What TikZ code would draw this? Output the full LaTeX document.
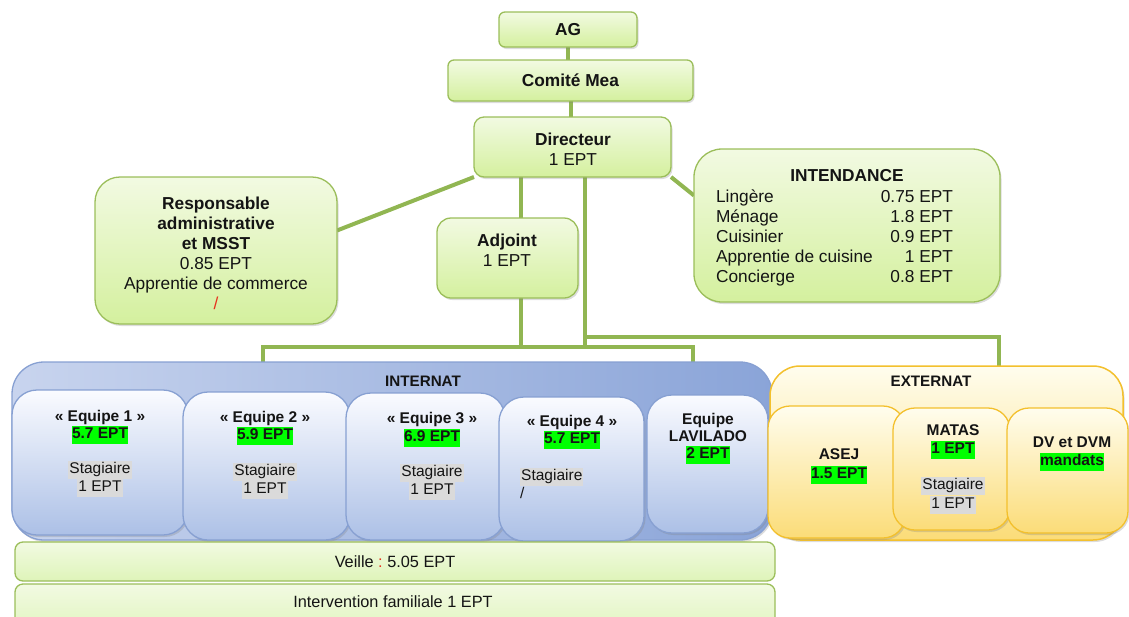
\documentclass[tikz,border=0pt]{standalone}
\usepackage{fontspec}
\setmainfont{Liberation Sans}
\usetikzlibrary{shadows,backgrounds}

\definecolor{tcol}{RGB}{20,20,20}
\definecolor{gline}{RGB}{145,182,82}
\definecolor{gedge}{RGB}{155,190,90}
\definecolor{gtop}{RGB}{242,250,226}
\definecolor{gbot}{RGB}{212,240,158}
\definecolor{vbot}{RGB}{222,244,185}
\definecolor{bedge}{RGB}{135,160,210}
\definecolor{btop}{RGB}{250,251,255}
\definecolor{bbot}{RGB}{172,192,230}
\definecolor{bleft}{RGB}{200,212,238}
\definecolor{bright}{RGB}{138,164,216}
\definecolor{yedge}{RGB}{243,192,45}
\definecolor{ytop}{RGB}{255,253,238}
\definecolor{ybot}{RGB}{251,220,120}
\definecolor{hlgreen}{RGB}{0,255,0}
\definecolor{hlgray}{RGB}{218,218,218}
\definecolor{slashred}{RGB}{230,50,30}

\newcommand{\bigf}{\fontsize{17.3}{20}\selectfont}
\newcommand{\smallf}{\fontsize{15.5}{18}\selectfont}
\newcommand{\headf}{\fontsize{15.2}{18}\selectfont\bfseries}
\newcommand{\barf}{\fontsize{16.3}{19}\selectfont}
\newcommand{\hlg}[1]{{\setlength{\fboxsep}{0pt}\colorbox{hlgreen}{\strut\textbf{#1}}}}
\newcommand{\hlgr}[1]{{\setlength{\fboxsep}{0pt}\colorbox{hlgray}{\strut\kern1pt #1\kern1pt}}}

\tikzset{
  boxshadow/.style={drop shadow={opacity=0.28, shadow xshift=1.5pt, shadow yshift=-2pt}},
  gbox/.style={draw=gedge, line width=1.3pt, top color=gtop, bottom color=gbot,
    rounded corners=#1, inner sep=0pt, outer sep=0pt, text=tcol, font=\bigf, boxshadow},
  gbox/.default=8pt,
  vbar/.style={draw=gedge, line width=1.3pt, top color=gtop, bottom color=vbot,
    rounded corners=8pt, inner sep=0pt, outer sep=0pt, text=tcol, font=\barf},
  panel/.style={draw=bedge, line width=1.3pt, left color=bleft, right color=bright,
    rounded corners=32pt, inner sep=0pt, outer sep=0pt, boxshadow},
  bbox/.style={draw=bedge, line width=1.3pt, top color=btop, bottom color=bbot,
    rounded corners=25pt, inner sep=0pt, outer sep=0pt, boxshadow},
  ypanel/.style={draw=yedge, line width=1.5pt, top color=ytop, bottom color=ybot,
    rounded corners=30pt, inner sep=0pt, outer sep=0pt, boxshadow},
  ybox/.style={draw=yedge, line width=1.3pt, top color=ytop, bottom color=ybot,
    rounded corners=22pt, inner sep=0pt, outer sep=0pt, boxshadow},
  lbl/.style={inner sep=0pt, text=tcol, font=\smallf},
  clbl/.style={lbl, align=center},
  link/.style={draw=gline, line width=4pt}
}

\begin{document}
\begin{tikzpicture}[x=1pt, y=-1pt]
\useasboundingbox (0,0) rectangle (1129,616);

\node[gbox=6pt, minimum width=138, minimum height=35] (ag) at (568,29.5) {\textbf{AG}};
\node[gbox=6pt, minimum width=245, minimum height=41] (comite) at (570.5,80.5) {\textbf{Comité Mea}};
\node[gbox=10pt, minimum width=197, minimum height=60] (dir) at (572.5,147) {};
\node[clbl, font=\bigf] (dir-t) at (573,149) {\textbf{Directeur}\\1 EPT};
\node[gbox=25pt, minimum width=242, minimum height=147] (resp) at (216,250.5) {};
\node[clbl, font=\bigf] (resp-t) at (216,253.5) {\textbf{Responsable}\\\textbf{administrative}\\\textbf{et MSST}\\0.85 EPT\\Apprentie de commerce\\\textcolor{slashred}{/}};
\node[gbox=14pt, minimum width=141, minimum height=80] (adj) at (507.5,258) {};
\node[clbl, font=\bigf] (adj-t) at (507,250) {\textbf{Adjoint}\\1 EPT};
\node[gbox=28pt, minimum width=306, minimum height=153] (intend) at (847,225.5) {};
\node[lbl, font=\bigf\bfseries] (intend-h) at (847,176) {INTENDANCE};
\node[lbl, font=\bigf] (intend-t) at (834.5,238) {\begin{tabular}{@{}l@{\hspace{8pt}}r@{}}
  Lingère & 0.75 EPT\\
  Ménage & 1.8 EPT\\
  Cuisinier & 0.9 EPT\\
  Apprentie de cuisine & 1 EPT\\
  Concierge & 0.8 EPT
\end{tabular}};

\node[panel, minimum width=760, minimum height=178] (internat) at (392,451) {};
\node[lbl, font=\headf] (internat-h) at (423,381) {INTERNAT};
\node[bbox, minimum width=176, minimum height=145] (e1) at (100,462.5) {};
\node[bbox, minimum width=167, minimum height=148] (e2) at (266.5,466) {};
\node[bbox, minimum width=159, minimum height=147] (e3) at (425.5,466.5) {};
\node[bbox, minimum width=145, minimum height=144] (e4) at (571.5,469) {};
\node[bbox, minimum width=121, minimum height=138] (lav) at (707.5,464) {};
\node[clbl] (e1-t) at (100,453.5) {\textbf{« Equipe 1 »}\\[-1pt]\hlg{5.7 EPT}\\[17pt]\hlgr{Stagiaire}\\\hlgr{1 EPT}};
\node[clbl] (e2-t) at (265,455.5) {\textbf{« Equipe 2 »}\\[-1pt]\hlg{5.9 EPT}\\[18pt]\hlgr{Stagiaire}\\\hlgr{1 EPT}};
\node[clbl] (e3-t) at (432,456.5) {\textbf{« Equipe 3 »}\\[0pt]\hlg{6.9 EPT}\\[17pt]\hlgr{Stagiaire}\\\hlgr{1 EPT}};
\node[clbl] (e4-t) at (572,432) {\textbf{« Equipe 4 »}\\[-1pt]\hlg{5.7 EPT}};
\node[lbl, align=left, anchor=west] (e4-s) at (520,483) {\hlgr{Stagiaire}\\/};
\node[clbl] (lav-t) at (708,438.5) {\textbf{Equipe}\\[-1pt]\textbf{LAVILADO}\\[-1pt]\hlg{2 EPT}};

\node[vbar, minimum width=760, minimum height=39] (veille) at (395,561.5) {Veille \textcolor{slashred}{:}\ 5.05 EPT};
\node[vbar, minimum width=760, minimum height=56] (interv) at (395,612) {};
\node[lbl, font=\barf] (interv-t) at (393,602) {Intervention familiale 1 EPT};

\node[ypanel, minimum width=353, minimum height=174] (externat) at (946.5,453) {};
\node[lbl, font=\headf] (externat-h) at (931,381) {EXTERNAT};
\node[ybox, minimum width=137, minimum height=132] (asej) at (836.5,472) {};
\node[ybox, minimum width=117, minimum height=122] (matas) at (951.5,469) {};
\node[ybox, minimum width=121, minimum height=125] (dv) at (1067.5,470.5) {};
\node[clbl] (asej-t) at (839,466) {\textbf{ASEJ}\\[1pt]\hlg{1.5 EPT}};
\node[clbl] (matas-t) at (953,469) {\textbf{MATAS}\\\hlg{1 EPT}\\[18pt]\hlgr{Stagiaire}\\[1pt]\hlgr{1 EPT}};
\node[clbl] (dv-t) at (1072,453.5) {\textbf{DV et DVM}\\\hlg{mandats}};

\begin{scope}[on background layer]
\coordinate (trunk) at (521,347);
\coordinate (side) at (585,347);
\coordinate (busL) at (263,347);
\coordinate (busR) at (693,347);
\coordinate (extbus) at (999,337);
\draw[link] (ag.south) -- (ag.south |- comite.north);
\draw[link] (comite.south) -- (comite.south |- dir.north);
\draw[link] (dir.south west) -- ([yshift=20pt]resp.east);
\draw[link] (dir.south east) -- ([yshift=30pt]intend.west);
\draw[link] (trunk |- dir.south) -- (trunk |- adj.north);
\draw[link] (trunk |- adj.south) -- (trunk);
\draw[link] (side |- dir.south) -- (side);
\draw[link] (busL |- internat.north) -- (busL) -- (busR) -- (busR |- internat.north);
\draw[link] (side |- extbus) -- (extbus) -- (extbus |- externat.north);
\end{scope}
\end{tikzpicture}
\end{document}
